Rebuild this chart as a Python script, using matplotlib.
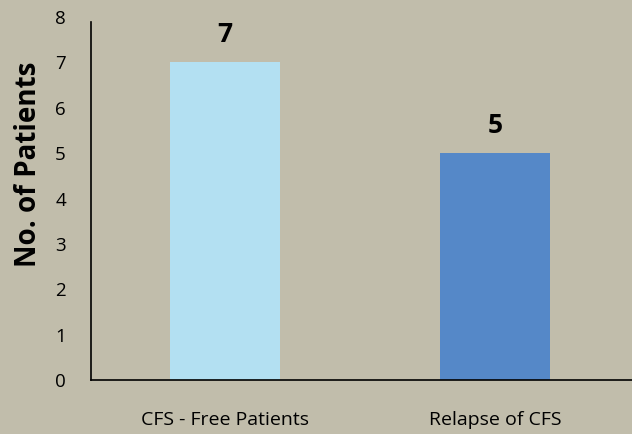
import matplotlib
matplotlib.use("Agg")
import matplotlib.pyplot as plt

categories = ["CFS - Free Patients", "Relapse of CFS"]
values = [7, 5]
yticks = [0, 1, 2, 3, 4, 5, 6, 7, 8]

bg = "#c1bdab"
colors = ["#b3e0f2", "#5588c8"]

plt.rcParams['font.family'] = ['Open Sans', 'DejaVu Sans']

fig = plt.figure(figsize=(6.32, 4.34), dpi=100, facecolor=bg)
ax = fig.add_axes([91/632, 54/434, 1 - 91/632, (380-17)/434])
ax.set_facecolor(bg)

x = list(range(len(categories)))
ax.bar(x, values, width=0.41, color=colors, zorder=2)
for xi, v in zip(x, values):
    ax.text(xi, v + 0.44, str(v), ha='center', va='baseline', fontsize=19, fontweight='bold')

ax.set_xlim(-0.496, 1.507)
ax.set_ylim(0, 8)
ax.set_yticks(yticks)
ax.set_yticklabels([str(t) for t in yticks], fontsize=13.5)
ax.set_xticks(x)
ax.set_xticklabels(categories, fontsize=14)
ax.tick_params(axis='y', length=0, pad=18)
ax.tick_params(axis='x', length=0, pad=22)
for s in ['top', 'right']:
    ax.spines[s].set_visible(False)
ax.spines['left'].set_bounds(0, 7.88)
ax.spines['left'].set_linewidth(1.2)
ax.spines['bottom'].set_linewidth(1.2)
ax.set_ylabel("No. of Patients", fontsize=20, fontweight='bold')
ax.yaxis.set_label_coords((29 - 91) / 541, (380 - 164) / 363)
ax.yaxis.label.set_verticalalignment('center')

fig.savefig("out.png", dpi=100, facecolor=bg)
